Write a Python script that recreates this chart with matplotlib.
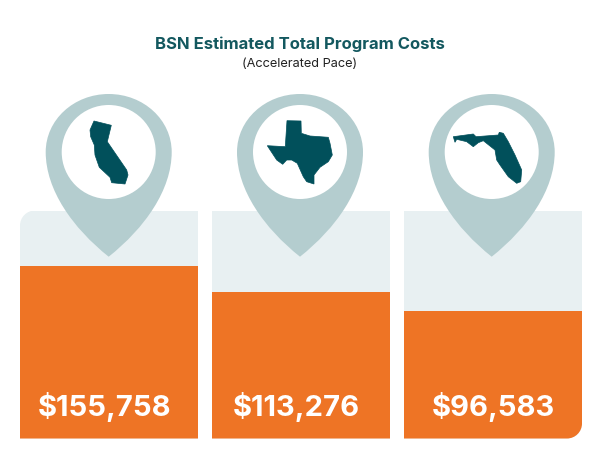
import matplotlib.pyplot as plt
from matplotlib.patches import Circle, PathPatch, Polygon
from matplotlib.path import Path

plt.rcParams['font.family'] = ['Inter', 'DejaVu Sans']

title = "BSN Estimated Total Program Costs"
subtitle = "(Accelerated Pace)"
states = ["California", "Texas", "Florida"]
labels = ["$155,758", "$113,276", "$96,583"]
# bar heights, they are not proportional to the costs
bar_heights = [173, 146.5, 127.5]
track_height = 228

bar_x = [109, 301, 493]
pin_x = [108.7, 300, 491.7]
label_x = [105, 296.5, 493]
bar_width = 178

# state outlines (pixels)
california = [(94, 121), (111.3, 125.3), (107.3, 141.7), (126.7, 170), (128, 175), (125, 184),
              (111.7, 182.7), (110, 177.3), (99.3, 167.3), (95, 155), (94.3, 145), (90.7, 136.7),
              (90, 130)]
texas = [(287, 120.7), (301, 121), (301.3, 133.3), (310, 136), (328.3, 137.3), (330, 143.3),
         (332.3, 155), (328.3, 161.7), (320, 167.3), (314, 175), (314, 184), (306.7, 181.7),
         (303.3, 176.7), (297.3, 163.3), (291.7, 160), (286.7, 160), (282.7, 164.3), (276.7, 160),
         (267.3, 145.7), (285.3, 146.7)]
florida = [(453.3, 136.7), (473.3, 134), (476, 136.7), (498.3, 135), (499.3, 132.3), (503.3, 133.3),
           (508.3, 141.7), (515, 155), (521.7, 170), (520.7, 181.7), (516.7, 183.3), (508.3, 176.7),
           (500, 165), (496.7, 160), (495, 150), (483.3, 140.7), (478.3, 142.7), (473.3, 146.7),
           (466.7, 141.7), (456.7, 139.3), (455, 142.3)]
outlines = [california, texas, florida]

orange = '#EE7425'
pale = '#E8F0F2'
pin_color = '#B4CDCF'
dark = '#01505B'

BASE = 438.5  # pixel row of the bars' baseline


def pinPath(cx, cy):
    # teardrop marker, cy is the centre of the round part
    verts = [(cx, cy - 104.7),
             (cx - 36, cy - 76), (cx - 63, cy - 38), (cx - 63, cy),
             (cx - 63, cy + 32), (cx - 35, cy + 58), (cx, cy + 58),
             (cx + 35, cy + 58), (cx + 63, cy + 32), (cx + 63, cy),
             (cx + 63, cy - 38), (cx + 36, cy - 76), (cx, cy - 104.7),
             (cx, cy - 104.7)]
    codes = [Path.MOVETO] + [Path.CURVE4] * 12 + [Path.CLOSEPOLY]
    return Path(verts, codes)


def panelPath(left, right, bottom, top, r):
    # rounded top left and bottom right corners only
    k = 0.45 * r
    verts = [(left, bottom), (right - r, bottom),
             (right - k, bottom), (right, bottom + k), (right, bottom + r),
             (right, top), (left + r, top),
             (left + k, top), (left, top - k), (left, top - r),
             (left, bottom), (left, bottom)]
    codes = [Path.MOVETO, Path.LINETO,
             Path.CURVE4, Path.CURVE4, Path.CURVE4,
             Path.LINETO, Path.LINETO,
             Path.CURVE4, Path.CURVE4, Path.CURVE4,
             Path.LINETO, Path.CLOSEPOLY]
    return Path(verts, codes)


fig = plt.figure(figsize=(6, 4.58), dpi=100)
ax = fig.add_axes([0, 0, 1, 1])
ax.set_xlim(0, 600)
ax.set_ylim(BASE - 458, BASE)
ax.axis('off')

clip = PathPatch(panelPath(20, 582, 0, track_height, 15), transform=ax.transData)

tracks = ax.bar(bar_x, [track_height] * 3, width=bar_width, color=pale, zorder=1)
bars = ax.bar(bar_x, bar_heights, width=bar_width, color=orange, zorder=2)
for b in list(tracks) + list(bars):
    b.set_clip_path(clip)

CY = BASE - 152
for i in range(3):
    ax.add_patch(PathPatch(pinPath(pin_x[i], CY), fc=pin_color, ec='none', zorder=3))
    ax.add_patch(Circle((pin_x[i], CY), 47, fc='white', ec='none', zorder=4))
    ax.add_patch(Polygon([(x, BASE - y) for x, y in outlines[i]], closed=True,
                         fc=dark, ec=dark, lw=0.5, zorder=5))
    ax.text(label_x[i], 31.5, labels[i], color='white', fontsize=21,
            fontweight='bold', ha='center', va='center', zorder=6)

ax.text(300, BASE - 44, title, color='#13585F', fontsize=12, fontweight='bold',
        ha='center', va='center')
ax.text(300, BASE - 64, subtitle, color='#222222', fontsize=9.2, fontweight='normal',
        ha='center', va='center')

fig.savefig('out.png', dpi=100)
